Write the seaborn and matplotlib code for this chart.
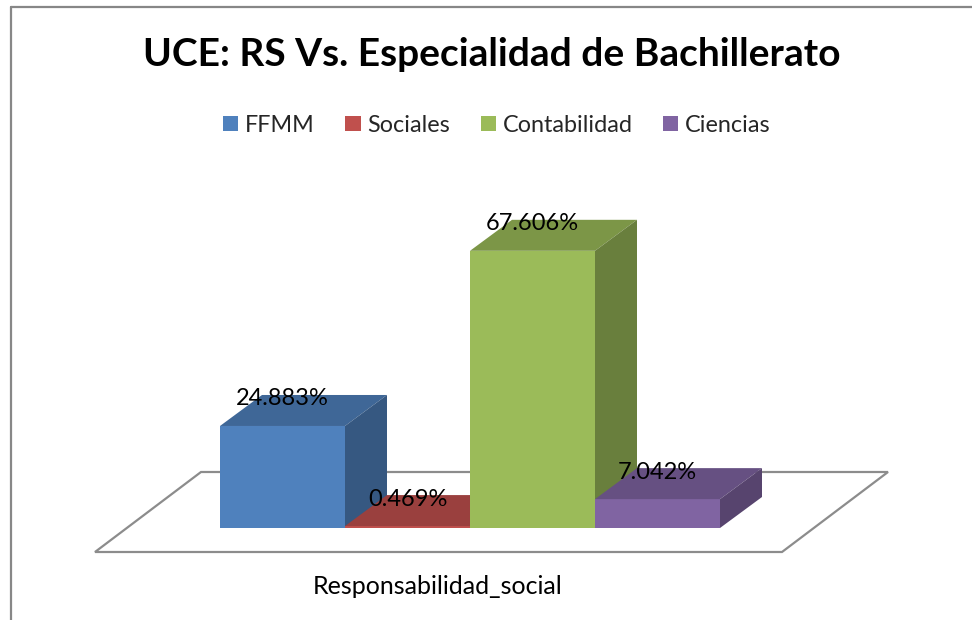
import matplotlib
matplotlib.use("Agg")
import matplotlib.pyplot as plt
from matplotlib.patches import Polygon, Patch, Rectangle
from matplotlib.lines import Line2D
from matplotlib.colors import to_rgb
import seaborn as sns
import pandas as pd

# Data
categoria = ["Responsabilidad_social"]
series = ["FFMM", "Sociales", "Contabilidad", "Ciencias"]
valores = [24.883, 0.469, 67.606, 7.042]
colores = ["#4F81BD", "#C0504D", "#9BBB59", "#8064A2"]
titulo = "UCE: RS Vs. Especialidad de Bachillerato"

df = pd.DataFrame({
    "categoria": categoria * len(series),
    "serie": series,
    "valor": valores,
})

sns.set_theme(style="white")
plt.rcParams["font.family"] = ["Lato", "DejaVu Sans"]

W, H = 972, 620
fig = plt.figure(figsize=(W / 100, H / 100), dpi=100)
fig.patch.set_facecolor("white")
ax = fig.add_axes([0, 0, 1, 1])

# pixel layout of the plot area
PX_PER_X = 625.0      # pixels per category unit
X_CENTER = 470.0      # pixel x of the category centre
PX_PER_PCT = 4.1      # pixels per percentage point
BASE_Y = 528.0        # pixel y (from top) of the bar bases


def set_limits():
    ax.set_xlim(-X_CENTER / PX_PER_X, (W - X_CENTER) / PX_PER_X)
    ax.set_ylim(-(H - BASE_Y) / PX_PER_PCT, BASE_Y / PX_PER_PCT)
    ax.set_axis_off()


def px(xp, yp):
    """Pixel position (from top-left) to data coordinates."""
    return ((xp - X_CENTER) / PX_PER_X, (BASE_Y - yp) / PX_PER_PCT)


# depth offsets for the 3-D look
DX = 42 / PX_PER_X
DY = 31 / PX_PER_PCT

sns.barplot(data=df, x="categoria", y="valor", hue="serie",
            palette=colores, saturation=1, width=0.8, legend=False,
            linewidth=0, ax=ax)
set_limits()

bars = sorted([p for p in ax.patches if isinstance(p, Rectangle)],
              key=lambda p: p.get_x())

# floor
floor = [px(95, 552), px(782, 552), px(888, 472), px(201, 472)]
ax.add_patch(Polygon(floor, closed=True, facecolor="white",
                     edgecolor="#8c8c8c", linewidth=1.6, zorder=1))


def shade(c, f):
    r, g, b = to_rgb(c)
    return (r * f, g * f, b * f)


for i, (bar, val, col) in enumerate(zip(bars, valores, colores)):
    x0 = bar.get_x()
    w = bar.get_width()
    h = bar.get_height()
    z = 5 + 3 * i
    bar.set_zorder(z)
    bar.set_facecolor(col)
    top = [(x0, h), (x0 + w, h), (x0 + w + DX, h + DY), (x0 + DX, h + DY)]
    side = [(x0 + w, 0), (x0 + w + DX, DY), (x0 + w + DX, h + DY), (x0 + w, h)]
    ax.add_patch(Polygon(top, closed=True, facecolor=shade(col, 0.80),
                         edgecolor="none", zorder=z + 1))
    ax.add_patch(Polygon(side, closed=True, facecolor=shade(col, 0.68),
                         edgecolor="none", zorder=z + 1))
    ax.text(x0 + w / 2, h + DY - 4 / PX_PER_PCT, f"{val:.3f}%",
            ha="center", va="center", fontsize=17, color="black", zorder=50)

# category label under the floor
cx, cy = px(438, 587)
ax.text(cx, cy, categoria[0], ha="center", va="center", fontsize=18,
        color="black")

# title
fig.text(492 / W, 1 - 55 / H, titulo, ha="center", va="center",
         fontsize=28, fontweight="bold", color="black")

# legend
handles = [Patch(facecolor=c, edgecolor="none", label=s)
           for s, c in zip(series, colores)]
fig.legend(handles=handles, loc="center", bbox_to_anchor=(497 / W, 1 - 125 / H),
           ncol=4, frameon=False, fontsize=16.8, handlelength=0.65,
           handleheight=0.65, handletextpad=0.3, columnspacing=1.3)

# chart border (runs off the right and bottom edges)
fig.add_artist(Line2D([11 / W, 1.0], [1 - 7 / H, 1 - 7 / H],
                      color="#878787", linewidth=1.6))
fig.add_artist(Line2D([11 / W, 11 / W], [1 - 7 / H, 0.0],
                      color="#878787", linewidth=1.6))

fig.savefig("out.png", dpi=100, facecolor="white")
